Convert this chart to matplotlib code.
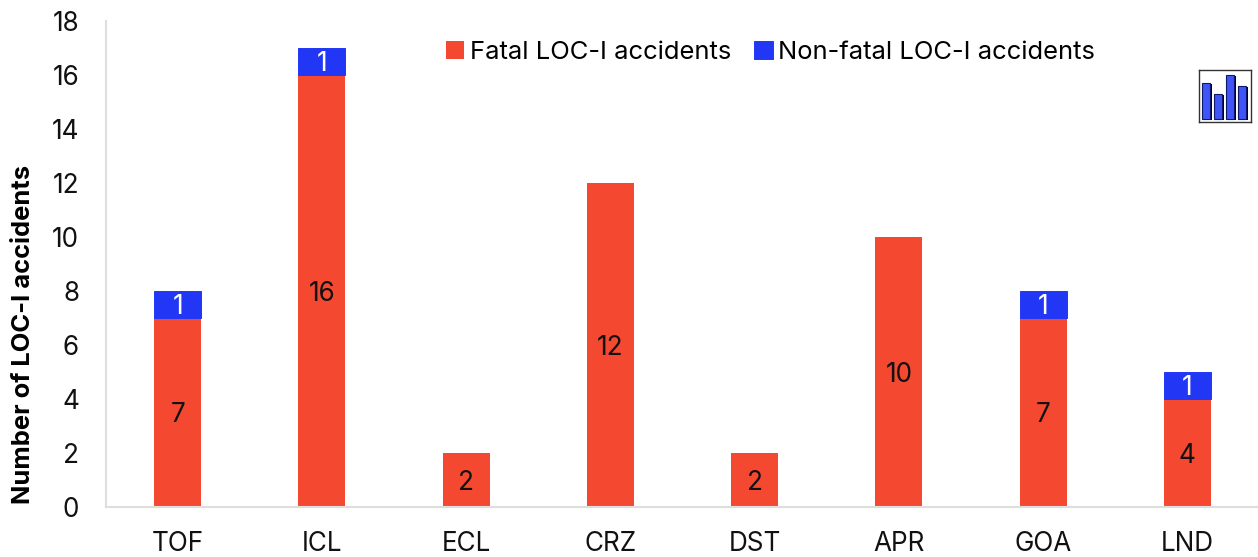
import matplotlib
matplotlib.use('Agg')
import matplotlib.pyplot as plt

plt.rcParams['font.family'] = ['Inter', 'DejaVu Sans']

phases = ['TOF', 'ICL', 'ECL', 'CRZ', 'DST', 'APR', 'GOA', 'LND']
fatal = [7, 16, 2, 12, 2, 10, 7, 4]
non_fatal = [1, 1, 0, 0, 0, 0, 1, 1]
icon_heights = [3.6, 2.5, 4.4, 3.3]

W, H = 1258, 557
RED = '#F44831'
BLUE = '#2137F5'
GRID = '#DEDEDE'
FS = 18.8

fig = plt.figure(figsize=(W / 100, H / 100), dpi=100)
ax_w = 8 * 144.25
ax = fig.add_axes([105.5 / W, 1 - 507 / H, ax_w / W, 486 / H])

x = range(len(phases))
bars_fatal = ax.bar(x, fatal, width=0.326, color=RED, label='Fatal LOC-I accidents')
# no edge on the zero height bars, it would show as a line on top of the red
edge_widths = [0.7 if val else 0 for val in non_fatal]
bars_non = ax.bar(x, non_fatal, width=0.326, bottom=fatal, color=BLUE,
                  edgecolor=BLUE, linewidth=edge_widths,
                  label='Non-fatal LOC-I accidents')

for bar, val in zip(bars_fatal, fatal):
  ax.annotate(str(val), (bar.get_x() + bar.get_width() / 2, val / 2),
              xytext=(0, -2), textcoords='offset points',
              ha='center', va='center', fontsize=FS, color='#111111')
for bar, val, base in zip(bars_non, non_fatal, fatal):
  if val:
    ax.annotate(str(val), (bar.get_x() + bar.get_width() / 2, base + val / 2),
                xytext=(0, -2), textcoords='offset points',
                ha='center', va='center', fontsize=FS, color='white')

ax.set_xlim(-0.5, len(phases) - 0.5)
ax.set_ylim(0, 18)
ax.set_yticks(range(0, 19, 2))
ax.set_xticks(list(x))
ax.set_xticklabels(phases)
ax.tick_params(axis='both', length=0, labelsize=FS, colors='#111111')
ax.tick_params(axis='x', pad=17)
ax.tick_params(axis='y', pad=19)
for side in ['top', 'right']:
  ax.spines[side].set_visible(False)
for side in ['left', 'bottom']:
  ax.spines[side].set_color(GRID)
  ax.spines[side].set_linewidth(1.5)

ax.set_ylabel('Number of LOC-I accidents', fontsize=18.4, fontweight='bold')
ax.yaxis.set_label_coords(-70 / ax_w, 0.355)

legend = ax.legend(loc='upper left', bbox_to_anchor=(320 / ax_w, 1.001), ncol=2,
                   frameon=False, fontsize=18.45, handlelength=0.72,
                   handleheight=0.72, handletextpad=0.2, columnspacing=0.92,
                   borderpad=0.3)

# small bar chart icon at the right edge
icon = fig.add_axes([1199 / W, 1 - 122 / H, 52 / W, 52 / H])
icon.bar([i + 0.16 for i in range(4)], icon_heights, bottom=-0.16, width=0.69,
         color='black', align='edge')
icon.bar(range(4), icon_heights, width=0.69, color='#3F55F8',
         edgecolor='#10186A', linewidth=0.8, align='edge')
icon.set_xlim(-0.22, 4.08)
icon.set_ylim(-0.33, 4.87)
icon.set_xticks([])
icon.set_yticks([])
for spine in icon.spines.values():
  spine.set_linewidth(1.0)
  spine.set_color('#333333')

fig.savefig('out.png', dpi=100)
